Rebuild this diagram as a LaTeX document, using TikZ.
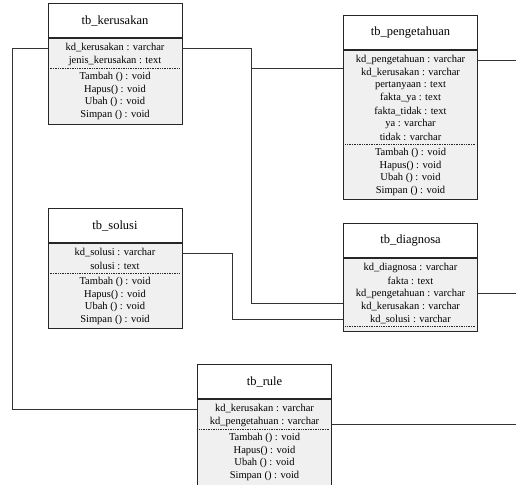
\documentclass[tikz,border=0pt]{standalone}
\usepackage{fontspec}
\setmainfont{Liberation Serif}
\usetikzlibrary{calc,positioning}
\definecolor{cLine}{HTML}{262626}
\definecolor{cBody}{HTML}{F0F0F0}
\definecolor{cRel}{HTML}{333333}
\tikzset{
  kepala/.style = {rectangle, draw=cLine, fill=white, line width=0.8pt, anchor=south,
                   minimum width=134pt, minimum height=34pt, inner sep=0pt,
                   font=\fontsize{12.5}{14}\selectfont},
  badan/.style  = {rectangle, draw=cLine, fill=cBody, line width=0.8pt, anchor=north,
                   minimum width=134pt, inner sep=0pt},
  baris/.style  = {inner sep=0pt, font=\fontsize{10.5}{12}\selectfont},
  titik/.style  = {draw=cLine, line width=0.5pt, dash pattern=on 1pt off 0.7pt},
  rel/.style    = {draw=cRel, line width=0.8pt},
}
% #1 nama, #2 x tengah, #3 y garis kepala, #4 judul, #5 tinggi badan, #6 atribut
\newcommand{\kelas}[6]{%
  \node[badan, minimum height=#5] (#1) at (#2,#3) {};
  \node[kepala] (#1-h) at (#2,#3) {#4};
  \foreach \isi [count=\n] in {#6}
    \node[baris] (#1-a\n) at ($(#1.north)+(0,{10+12.8*(\n-1)})$) {\isi};
}
\newcommand{\pisah}[2]{%
  \draw[titik] ($(#1.west |- #1-a#2)+(2,7.5)$) -- ($(#1.east |- #1-a#2)+(-2,7.5)$);
}
\newcommand{\metode}[2]{%
  \pisah{#1}{#2}
  \foreach \isi [count=\n] in {Tambah () : void, Hapus() : void, Ubah () : void, Simpan () : void}
    \node[baris] (#1-m\n) at ($(#1.center |- #1-a#2)+(0,{16+12.8*(\n-1)})$) {\isi};
}

\begin{document}
\begin{tikzpicture}[x=1pt, y=-1pt]
  \useasboundingbox (0,0) rectangle (516,484);

  \kelas{kerusakan}{115}{38}{tb\_kerusakan}{86}
    {kd\_kerusakan : varchar, jenis\_kerusakan : text}
  \metode{kerusakan}{2}

  \kelas{pengetahuan}{410.5}{50}{tb\_pengetahuan}{149}
    {kd\_pengetahuan : varchar, kd\_kerusakan : varchar, pertanyaan : text,
     fakta\_ya : text, fakta\_tidak : text, ya : varchar, tidak : varchar}
  \metode{pengetahuan}{7}

  \kelas{solusi}{115}{243}{tb\_solusi}{85}
    {kd\_solusi : varchar, solusi : text}
  \metode{solusi}{2}

  \kelas{diagnosa}{410.5}{258}{tb\_diagnosa}{73}
    {kd\_diagnosa : varchar, fakta : text, kd\_pengetahuan : varchar,
     kd\_kerusakan : varchar, kd\_solusi : varchar}
  \pisah{diagnosa}{5}

  \kelas{rule}{264.5}{399}{tb\_rule}{88}
    {kd\_kerusakan : varchar, kd\_pengetahuan : varchar}
  \metode{rule}{2}

  % ujung yang keluar di tepi kanan
  \coordinate (tepi) at (516,0);

  % relasi
  \draw[rel] (kerusakan.west |- kerusakan-a1) -- ++(-35,0) |- (rule.west |- rule-a1);
  \draw[rel] (kerusakan.east |- kerusakan-a1) -- ++(69,0) coordinate (k1)
             |- ($(diagnosa.west |- diagnosa-a4)+(0,-3)$);
  \draw[rel] (k1) |- ($(pengetahuan.west |- pengetahuan-a2)+(0,-4.5)$);
  \draw[rel] (solusi.east |- solusi-a1) -- ++(50,0) |- (diagnosa.west |- diagnosa-a5);
  \draw[rel] (pengetahuan.east |- pengetahuan-a1) -- (tepi |- pengetahuan-a1);
  \draw[rel] (diagnosa.east |- diagnosa-a3) -- (tepi |- diagnosa-a3);
  \draw[rel] ($(rule.east |- rule-a2)+(0,3)$) -- ($(tepi |- rule-a2)+(0,3)$);
\end{tikzpicture}
\end{document}
